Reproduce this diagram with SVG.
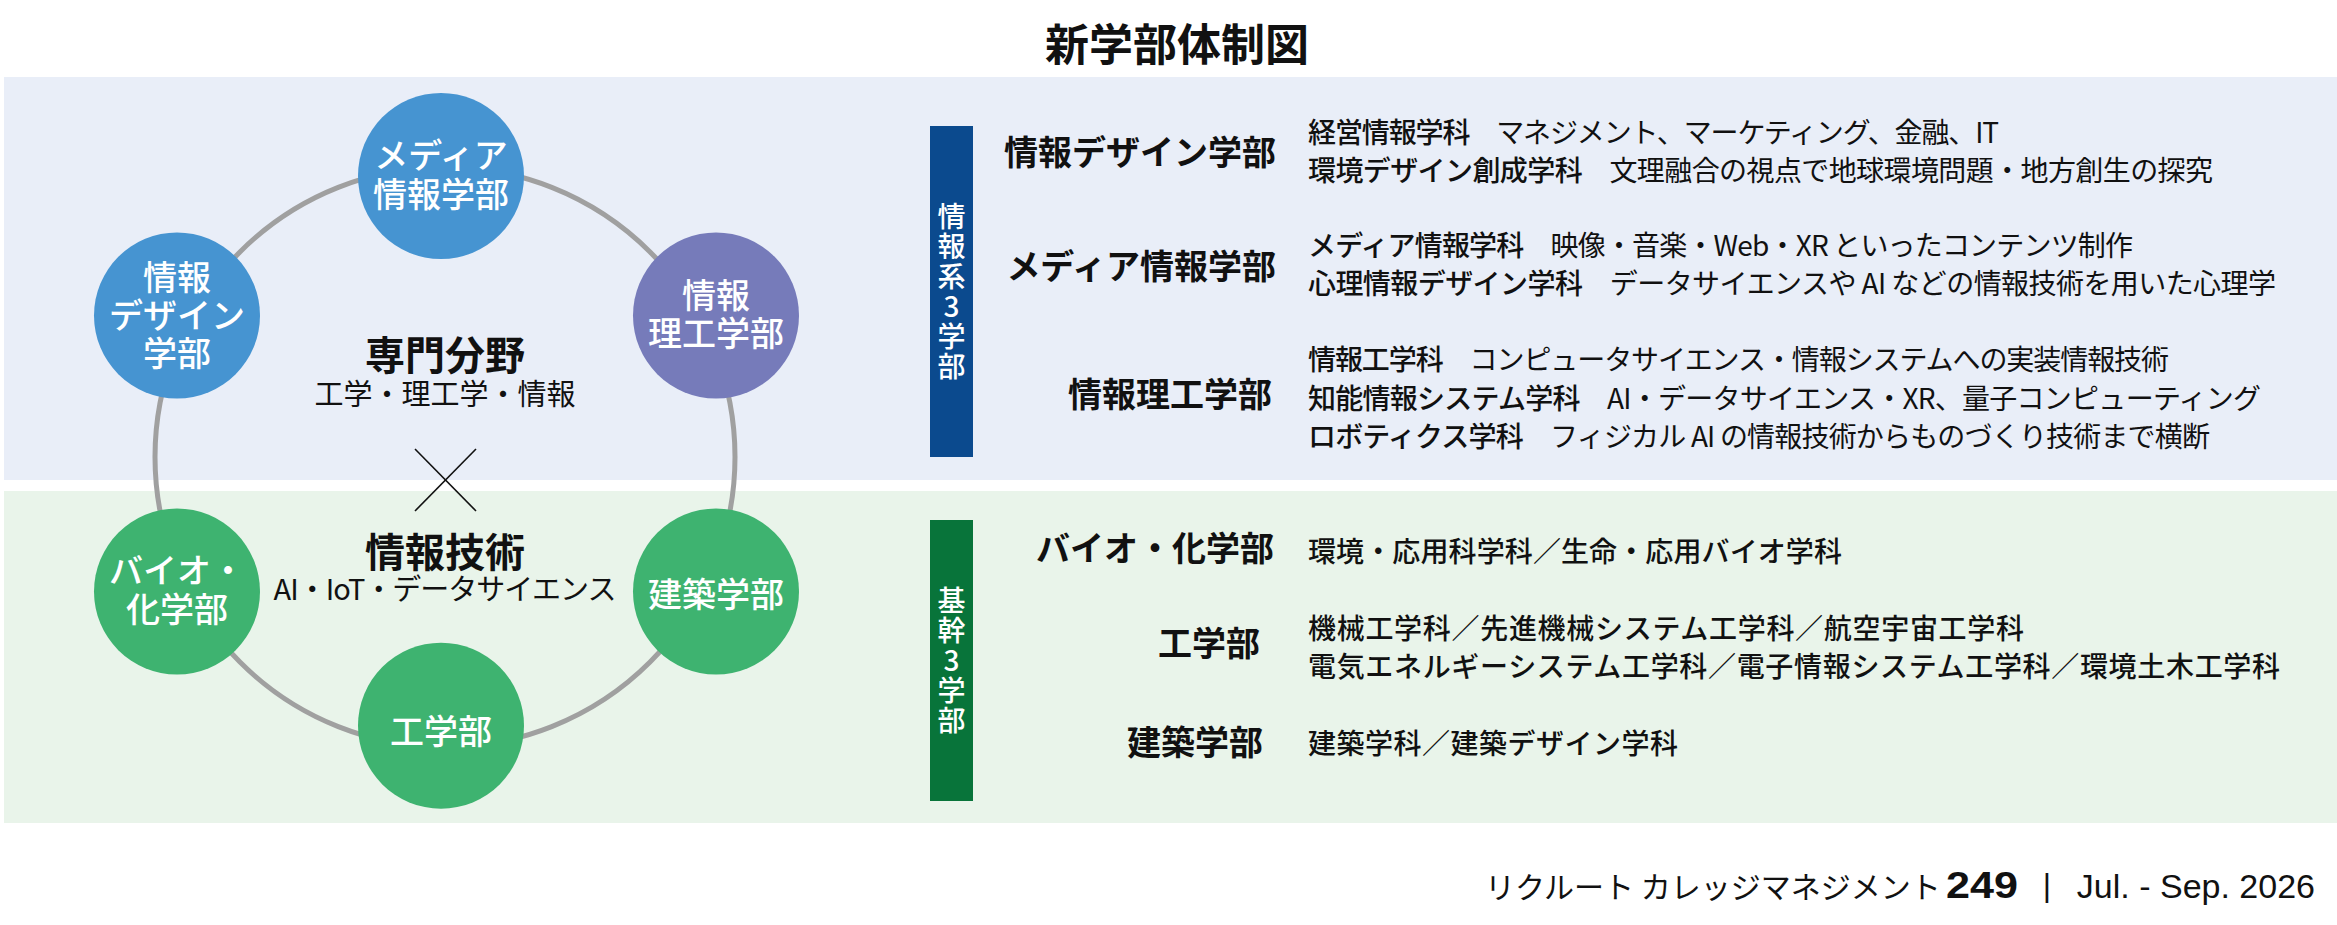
<svg xmlns="http://www.w3.org/2000/svg" width="2337" height="925" viewBox="0 0 2337 925">
<style>
text{font-family:"Noto Sans CJK JP","Noto Sans",sans-serif;fill:#111}
.title{font-size:44px;font-weight:700;text-anchor:middle}
.cw{font-size:34px;font-weight:500;fill:#fff;text-anchor:middle}
.big{font-size:40px;font-weight:700;text-anchor:middle}
.sub{font-size:29px;text-anchor:middle}
.fac{font-size:34px;font-weight:700;text-anchor:end}
.desc{font-size:28px}
.dn{font-weight:500}
.bar{font-size:28px;font-weight:500;fill:#fff;writing-mode:vertical-rl;text-orientation:upright;letter-spacing:2px}
.blue{fill:#4694D1}
.purple{fill:#767BBA}
.green{fill:#3EB370}
.foot{font-size:30px}
.lat{font-family:"Liberation Sans",Arial,sans-serif}
</style>
<rect width="2337" height="925" fill="#fff"/>
<text class="title" x="1177" y="61">新学部体制図</text>
<rect x="4" y="77" width="2333" height="403" fill="#E9EEF8"/>
<rect x="4" y="491" width="2333" height="332" fill="#E9F4EA"/>

<g id="connectors">
<circle cx="445" cy="457" r="290" fill="none" stroke="#A0A0A0" stroke-width="5"/>
<line x1="415" y1="449" x2="476" y2="511" stroke="#111" stroke-width="1.6"/>
<line x1="476" y1="449" x2="415" y2="511" stroke="#111" stroke-width="1.6"/>
</g>

<g id="node-media">
<circle class="blue" cx="441" cy="176" r="83"/>
<text class="cw" x="441" y="168">メディア</text>
<text class="cw" x="441" y="207">情報学部</text>
</g>
<g id="node-infodesign">
<circle class="blue" cx="177" cy="315.5" r="83"/>
<text class="cw" x="177" y="290">情報</text>
<text class="cw" x="177" y="328">デザイン</text>
<text class="cw" x="177" y="366">学部</text>
</g>
<g id="node-infoeng">
<circle class="purple" cx="716" cy="315.5" r="83"/>
<text class="cw" x="716" y="308">情報</text>
<text class="cw" x="716" y="346">理工学部</text>
</g>
<g id="node-bio">
<circle class="green" cx="177" cy="591.5" r="83"/>
<text class="cw" x="177" y="583">バイオ・</text>
<text class="cw" x="177" y="622">化学部</text>
</g>
<g id="node-arch">
<circle class="green" cx="716" cy="591.5" r="83"/>
<text class="cw" x="716" y="607">建築学部</text>
</g>
<g id="node-eng">
<circle class="green" cx="441" cy="725.7" r="83"/>
<text class="cw" x="441" y="744">工学部</text>
</g>

<g id="center-labels">
<text class="big" x="445" y="370">専門分野</text>
<text class="sub" x="445" y="405">工学・理工学・情報</text>
<text class="big" x="445" y="567">情報技術</text>
<text class="sub" x="445" y="600" textLength="343" lengthAdjust="spacing">AI・IoT・データサイエンス</text>
</g>

<g id="bar-info">
<rect x="930" y="126" width="43" height="331" fill="#0B4A8E"/>
<text class="bar" x="951.5" y="202">情報系3学部</text>
</g>
<g id="bar-base">
<rect x="930" y="520" width="43" height="281" fill="#08743A"/>
<text class="bar" x="951.5" y="586">基幹3学部</text>
</g>

<g id="fac-infodesign">
<text class="fac" x="1276" y="165">情報デザイン学部</text>
<text class="desc" x="1308" y="143" textLength="691" lengthAdjust="spacing"><tspan class="dn">経営情報学科</tspan>　マネジメント、マーケティング、金融、IT</text>
<text class="desc" x="1308" y="181" textLength="905" lengthAdjust="spacing"><tspan class="dn">環境デザイン創成学科</tspan>　文理融合の視点で地球環境問題・地方創生の探究</text>
</g>
<g id="fac-media">
<text class="fac" x="1276" y="279">メディア情報学部</text>
<text class="desc" x="1308" y="256" textLength="825" lengthAdjust="spacing"><tspan class="dn">メディア情報学科</tspan>　映像・音楽・Web・XR といったコンテンツ制作</text>
<text class="desc" x="1308" y="294" textLength="968" lengthAdjust="spacing"><tspan class="dn">心理情報デザイン学科</tspan>　データサイエンスや AI などの情報技術を用いた心理学</text>
</g>
<g id="fac-infoeng">
<text class="fac" x="1272" y="407">情報理工学部</text>
<text class="desc" x="1308" y="370" textLength="861" lengthAdjust="spacing"><tspan class="dn">情報工学科</tspan>　コンピュータサイエンス・情報システムへの実装情報技術</text>
<text class="desc" x="1308" y="409" textLength="953" lengthAdjust="spacing"><tspan class="dn">知能情報システム学科</tspan>　AI・データサイエンス・XR、量子コンピューティング</text>
<text class="desc" x="1308" y="447" textLength="902" lengthAdjust="spacing"><tspan class="dn">ロボティクス学科</tspan>　フィジカル AI の情報技術からものづくり技術まで横断</text>
</g>
<g id="fac-bio">
<text class="fac" x="1274" y="561">バイオ・化学部</text>
<text class="desc dn" x="1308" y="562" textLength="534" lengthAdjust="spacing">環境・応用科学科／生命・応用バイオ学科</text>
</g>
<g id="fac-eng">
<text class="fac" x="1260" y="656">工学部</text>
<text class="desc dn" x="1308" y="639" textLength="716" lengthAdjust="spacing">機械工学科／先進機械システム工学科／航空宇宙工学科</text>
<text class="desc dn" x="1308" y="677" textLength="972" lengthAdjust="spacing">電気エネルギーシステム工学科／電子情報システム工学科／環境土木工学科</text>
</g>
<g id="fac-arch">
<text class="fac" x="1263" y="755">建築学部</text>
<text class="desc dn" x="1308" y="754" textLength="370" lengthAdjust="spacing">建築学科／建築デザイン学科</text>
</g>

<g id="footer">
<text class="foot" x="1485" y="898">リクルート カレッジマネジメント</text>
<text class="lat" x="1946" y="898" font-size="36" font-weight="700" textLength="72" lengthAdjust="spacingAndGlyphs">249</text>
<text class="lat" x="2047" y="896" font-size="32" text-anchor="middle" fill="#333">|</text>
<text class="lat" x="2315" y="898" font-size="34" text-anchor="end">Jul. - Sep. 2026</text>
</g>
</svg>
